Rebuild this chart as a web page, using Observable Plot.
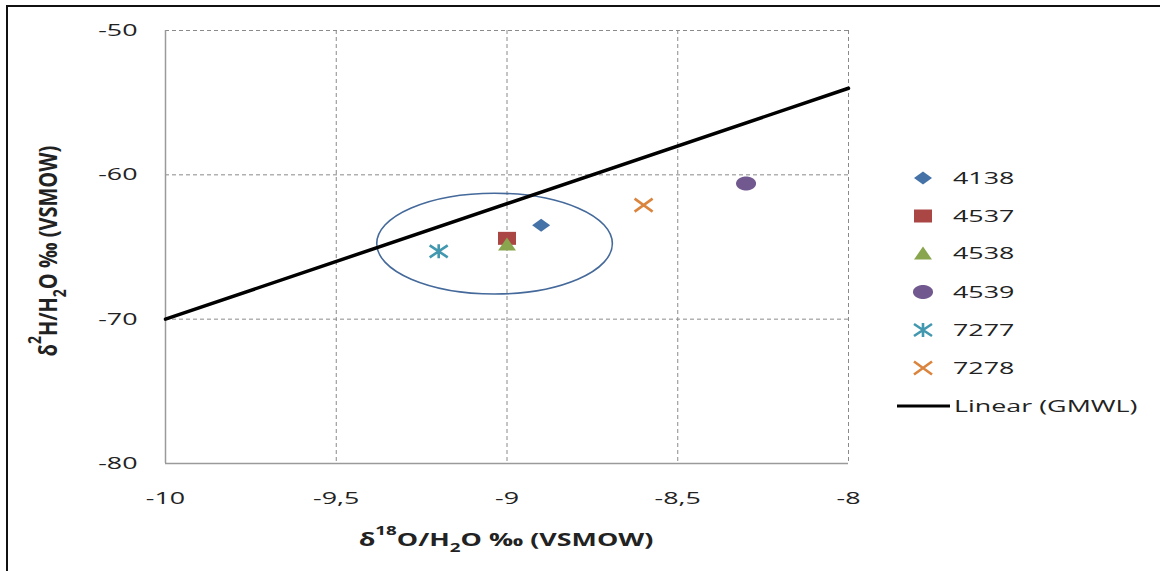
<!DOCTYPE html>
<html><head><meta charset="utf-8">
<script src="https://cdn.jsdelivr.net/npm/d3@7"></script>
<script src="https://cdn.jsdelivr.net/npm/@observablehq/plot@0.6"></script>
<style>
body{margin:0;background:#fff;}
#wrap{position:relative;width:1160px;height:571px;overflow:hidden;background:#fff;}
#frame{position:absolute;left:6px;top:5px;width:1300px;height:800px;border-left:2px solid #111;border-top:2px solid #111;pointer-events:none;}
#chart{position:absolute;left:0;top:0;}
</style></head><body>
<div id="wrap"><div id="chart"></div><div id="frame"></div></div>
<script>
// ---- data ----
const sampleIds = ["4138", "4537", "4538", "4539", "7277", "7278"];
const d18O = [-8.9, -9.0, -9.0, -8.3, -9.2, -8.6];
const d2H = [-63.5, -64.4, -64.8, -60.6, -65.3, -62.1];
const sampleColors = ["#4572A7", "#AA4643", "#89A54E", "#71588F", "#4198AF", "#DB843D"];
const gmwlX = [-10, -8];
const gmwlY = [-70, -54];
const gmwlLabel = "Linear (GMWL)";
const xTicks = [-10, -9.5, -9, -8.5, -8];
const xTickLabels = ["-10", "-9,5", "-9", "-8,5", "-8"];
const yTicks = [-80, -70, -60, -50];
const yTickLabels = ["-80", "-70", "-60", "-50"];
const ellipseCenter = [-9.035, -64.8];
const ellipseRadii = [0.345, 3.49];

// ---- marker shapes (horizontally stretched like the reference) ----
const symbols = [
  {draw(c){c.moveTo(0,-6.5);c.lineTo(9,0);c.lineTo(0,6.5);c.lineTo(-9,0);c.closePath();}},
  {draw(c){c.rect(-9,-6.5,18,13);}},
  {draw(c){c.moveTo(0,-6.5);c.lineTo(9,6.5);c.lineTo(-9,6.5);c.closePath();}},
  {draw(c){c.moveTo(10,0); for (let a=1;a<=48;a++){const t=a/48*2*Math.PI; c.lineTo(10*Math.cos(t),7*Math.sin(t));} c.closePath();}},
  {draw(c){c.moveTo(0,-7);c.lineTo(0,7);c.moveTo(-9,-6);c.lineTo(9,6);c.moveTo(-9,6);c.lineTo(9,-6);}},
  {draw(c){c.moveTo(-9,-6.5);c.lineTo(9,6.5);c.moveTo(-9,6.5);c.lineTo(9,-6.5);}}
];
const stroked = [false, false, false, false, true, true];

const points = sampleIds.map((id, i) => ({id, x: d18O[i], y: d2H[i]}));
const gmwl = gmwlX.map((x, i) => ({x, y: gmwlY[i]}));

const marks = [
  Plot.gridX(xTicks.slice(1), {stroke: "#8a8a8a", strokeOpacity: 1, strokeDasharray: "4,3"}),
  Plot.gridY(yTicks.slice(1), {stroke: "#8a8a8a", strokeOpacity: 1, strokeDasharray: "4,3"}),
  Plot.ruleX([xTicks[0]], {stroke: "#9a9a9a", strokeWidth: 1.5}),
  Plot.ruleY([yTicks[0]], {stroke: "#9a9a9a", strokeWidth: 1.5}),
  Plot.axisX(xTicks, {tickSize: 0, tickPadding: 28, tickFormat: d => xTickLabels[xTicks.indexOf(d)], label: null, fill: "#222"}),
  Plot.axisY(yTicks, {tickSize: 0, tickPadding: 28, tickFormat: d => yTickLabels[yTicks.indexOf(d)], label: null, fill: "#222"}),
  (index, scales) => {
    const cx = scales.x(ellipseCenter[0]), cy = scales.y(ellipseCenter[1]);
    const rx = Math.abs(scales.x(ellipseCenter[0] + ellipseRadii[0]) - cx);
    const ry = Math.abs(scales.y(ellipseCenter[1] + ellipseRadii[1]) - cy);
    return d3.create("svg:ellipse").attr("cx", cx).attr("cy", cy).attr("rx", rx).attr("ry", ry)
      .attr("fill", "none").attr("stroke", "#44699a").attr("stroke-width", 1.6).node();
  },
  Plot.line(gmwl, {x: "x", y: "y", stroke: "#000", strokeWidth: 3.5})
];
points.forEach((p, i) => {
  marks.push(Plot.dot([p], {
    x: "x", y: "y", r: 7, symbol: symbols[i],
    fill: stroked[i] ? "none" : sampleColors[i],
    stroke: stroked[i] ? sampleColors[i] : "none",
    strokeWidth: stroked[i] ? 2.6 : 0
  }));
});

const plot = Plot.plot({
  width: 1160, height: 571,
  marginLeft: 165, marginRight: 312, marginTop: 30, marginBottom: 108,
  x: {domain: [-10, -8]},
  y: {domain: [-80, -50]},
  style: {fontFamily: "'Open Sans', sans-serif", fontSize: "17px", background: "transparent", color: "#222", overflow: "visible"},
  marks
});

const K = 1.58;
plot.querySelectorAll("text").forEach(t => {
  const tr = t.getAttribute("transform");
  if (tr) t.setAttribute("transform", tr + ` scale(${K},1)`);
  else {
    const x = +(t.getAttribute("x") || 0), y = +(t.getAttribute("y") || 0);
    t.removeAttribute("x"); t.removeAttribute("y");
    t.setAttribute("transform", `translate(${x},${y}) scale(${K},1)`);
  }
});

const svg = d3.select(plot);
// axis titles
function title(g, parts, fs){
  const t = g.append("text").attr("text-anchor", "middle").attr("dominant-baseline", "central")
    .attr("font-weight", "bold").attr("font-size", fs).attr("fill", "#222");
  parts.forEach(([s, kind]) => {
    const ts = t.append("tspan").text(s);
    if (kind === "sup") ts.attr("baseline-shift", "super").attr("font-size", fs * 0.7);
    if (kind === "sub") ts.attr("baseline-shift", "sub").attr("font-size", fs * 0.7);
  });
}
title(svg.append("g").attr("transform", `translate(506,539) scale(${K},1)`),
  [["δ"], ["18", "sup"], ["O/H"], ["2", "sub"], ["O ‰ (VSMOW)"]], 17);
title(svg.append("g").attr("transform", `translate(47,251) rotate(-90) scale(1,1.25)`),
  [["δ"], ["2", "sup"], ["H/H"], ["2", "sub"], ["O ‰ (VSMOW)"]], 20);

// legend
const rowY = [178, 216, 253, 292, 330, 368];
const leg = svg.append("g").attr("font-size", 17).attr("fill", "#222").attr("text-anchor", "start");
sampleIds.forEach((id, i) => {
  const p = d3.path(); symbols[i].draw(p);
  leg.append("path").attr("d", p.toString()).attr("transform", `translate(923,${rowY[i]})`)
    .attr("fill", stroked[i] ? "none" : sampleColors[i])
    .attr("stroke", stroked[i] ? sampleColors[i] : "none").attr("stroke-width", stroked[i] ? 2.6 : 0);
  leg.append("text").attr("transform", `translate(953,${rowY[i]}) scale(${K},1)`)
    .attr("dominant-baseline", "central").text(id);
});
leg.append("line").attr("x1", 897).attr("x2", 950).attr("y1", 406).attr("y2", 406)
  .attr("stroke", "#000").attr("stroke-width", 3);
leg.append("text").attr("transform", `translate(954,406) scale(${K},1)`)
  .attr("dominant-baseline", "central").text(gmwlLabel);

document.getElementById("chart").appendChild(plot);
</script>
</body></html>
